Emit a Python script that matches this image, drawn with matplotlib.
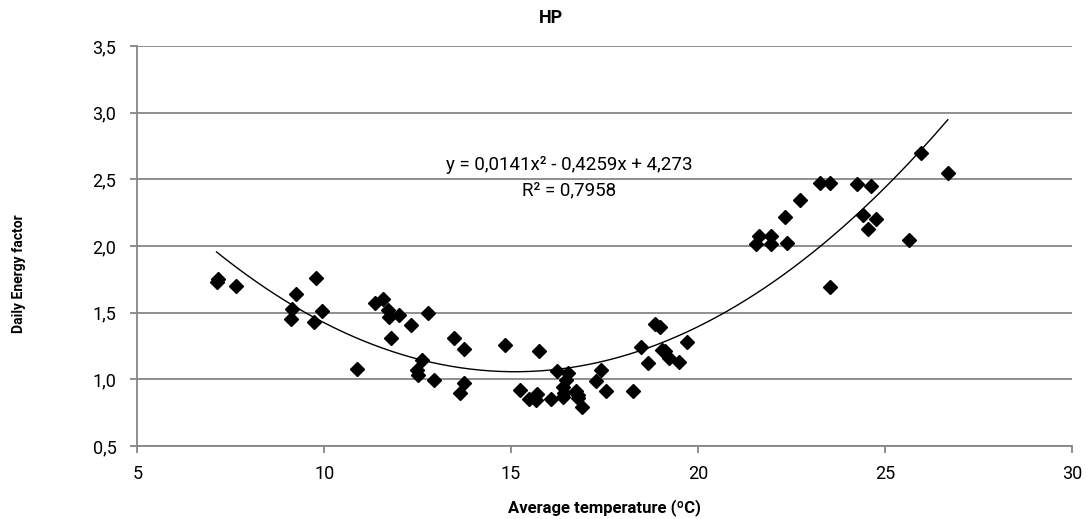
import numpy as np
import matplotlib.pyplot as plt

plt.rcParams['font.family'] = ['Roboto', 'DejaVu Sans']

# daily mean temperature (ºC) and energy factor
temps = [7.12, 7.15, 7.63, 9.12, 9.13, 9.25, 9.72, 9.78, 9.94, 10.87,
         11.36, 11.57, 11.70, 11.73, 11.79, 12.01, 12.33, 12.48, 12.52, 12.62,
         12.77, 12.95, 13.46, 13.64, 13.73, 13.75, 14.83, 15.25, 15.49, 15.66,
         15.68, 15.75, 16.08, 16.24, 16.38, 16.38, 16.42, 16.47, 16.51, 16.73,
         16.78, 16.80, 16.89, 17.28, 17.40, 17.53, 18.26, 18.47, 18.67, 18.85,
         18.98, 19.03, 19.12, 19.22, 19.49, 19.70, 21.54, 21.63, 21.94, 21.94,
         22.32, 22.38, 22.74, 23.25, 23.52, 23.54, 24.25, 24.40, 24.54, 24.63,
         24.77, 25.65, 25.97, 26.68]
factor = [1.73, 1.75, 1.70, 1.45, 1.53, 1.64, 1.43, 1.76, 1.51, 1.08,
          1.57, 1.60, 1.52, 1.47, 1.31, 1.48, 1.41, 1.07, 1.03, 1.145,
          1.50, 0.995, 1.31, 0.90, 1.225, 0.97, 1.26, 0.92, 0.85, 0.845,
          0.89, 1.215, 0.855, 1.065, 0.87, 0.945, 0.895, 0.995, 1.05, 0.91,
          0.86, 0.88, 0.79, 0.99, 1.07, 0.915, 0.91, 1.245, 1.125, 1.415,
          1.39, 1.22, 1.21, 1.16, 1.13, 1.28, 2.015, 2.075, 2.075, 2.015,
          2.22, 2.025, 2.345, 2.47, 2.47, 1.69, 2.465, 2.23, 2.125, 2.45,
          2.20, 2.045, 2.70, 2.55]

# polynomial trendline coefficients (a*x^2 + b*x + c)
coef = [0.0141, -0.4259, 4.273]
r2 = 0.7958

xticks = [5, 10, 15, 20, 25, 30]
yticks = [0.5, 1.0, 1.5, 2.0, 2.5, 3.0, 3.5]

fig = plt.figure(figsize=(10.86, 5.19), dpi=100)
ax = fig.add_axes([0.1264, 0.1407, 0.8606, 0.7707])

grid_c = '#868686'
for v in yticks:
    ax.axhline(v, color=grid_c, lw=1.3, zorder=1)

xs = np.linspace(min(temps), max(temps), 300)
ax.plot(xs, np.polyval(coef, xs), color='black', lw=1.0, zorder=2)
ax.plot(temps, factor, linestyle='none', marker='D', markersize=6.8,
        color='black', zorder=3)

ax.set_xlim(5, 30)
ax.set_ylim(0.5, 3.5)
ax.set_xticks(xticks)
ax.set_yticks(yticks)
ax.set_xticklabels([str(t) for t in xticks])
ax.set_yticklabels([f'{t:.1f}'.replace('.', ',') for t in yticks])
ax.tick_params(colors=grid_c, labelcolor='black', labelsize=13, length=5, width=1.3)
ax.tick_params(axis='y', pad=10)
ax.tick_params(axis='x', pad=9)

for side in ['top', 'right']:
    ax.spines[side].set_visible(False)
for side in ['left', 'bottom']:
    ax.spines[side].set_color(grid_c)
    ax.spines[side].set_linewidth(1.3)

a, b, c = coef
eq = (f'y = {a:.4f}x² - {abs(b):.4f}x + {c:.3f}'.replace('.', ','))
ax.text(16.55, 2.61, eq, ha='center', va='center', fontsize=13.5)
ax.text(16.55, 2.42, f'R² = {r2:.4f}'.replace('.', ','), ha='center', va='center', fontsize=13.5)

fig.text(0.507, 0.965, 'HP', ha='center', va='center', fontsize=13, fontweight='bold')
ax.set_xlabel('Average temperature (ºC)', fontsize=12, fontweight='bold', va='center')
ax.xaxis.set_label_coords(0.5, -0.155)
ax.set_ylabel('Daily Energy factor', fontsize=10, fontweight='bold', va='center')
ax.yaxis.set_label_coords(-0.127, 0.43)

fig.savefig('out.png', dpi=100)
